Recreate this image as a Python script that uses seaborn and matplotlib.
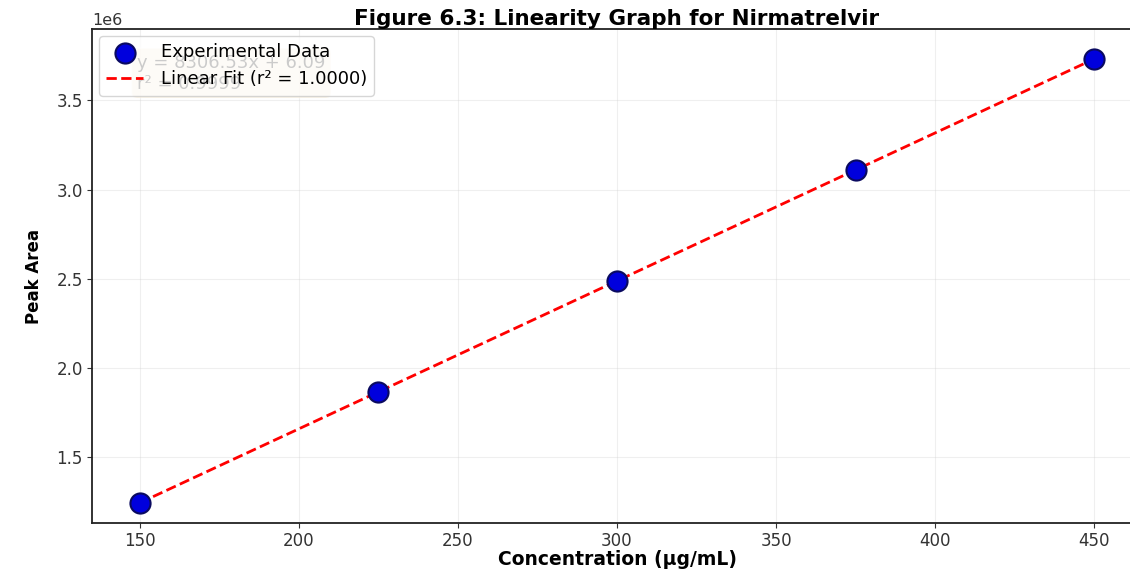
import numpy as np
import pandas as pd
import matplotlib
matplotlib.use("Agg")
import matplotlib.pyplot as plt
import seaborn as sns

# ── data ──
conc = [150, 225, 300, 375, 450]
peak_area = [1.242e6, 1.865e6, 2.489e6, 3.112e6, 3.730e6]
title = "Figure 6.3: Linearity Graph for Nirmatrelvir"
xlabel = "Concentration (µg/mL)"
ylabel = "Peak Area"
eq_text = "y = 8306.53x + 6.09\nr² = 0.9999"
fit_label = "Linear Fit (r² = 1.0000)"

sns.set_style("ticks")
plt.rcParams["font.family"] = ["DejaVu Sans"]
plt.rcParams["text.color"] = "black"
plt.rcParams["axes.labelcolor"] = "black"
plt.rcParams["xtick.color"] = "#333333"
plt.rcParams["ytick.color"] = "#333333"

df = pd.DataFrame({"conc": conc, "area": peak_area})
slope, intercept = np.polyfit(df["conc"], df["area"], 1)
fit = pd.DataFrame({"conc": conc, "area": slope * np.array(conc) + intercept})

fig = plt.figure(figsize=(11.3, 5.71), dpi=100)
ax = fig.add_axes([92 / 1130, 48 / 571, 1050 / 1130, 494 / 571])

sns.scatterplot(data=df, x="conc", y="area", s=210, color="#0000dd",
                edgecolor="#0a0a60", linewidth=1.5, zorder=5,
                label="Experimental Data", ax=ax)
sns.lineplot(data=fit, x="conc", y="area", color="red", linestyle="--",
             linewidth=2, label=fit_label, ax=ax, zorder=4)

ax.text(0.043, 0.95, eq_text, transform=ax.transAxes, fontsize=13, va="top",
        bbox=dict(boxstyle="round", facecolor="wheat", alpha=0.5))

ax.set_xlim(135, 465)
ax.set_ylim(1.13e6, 3.90e6)
ax.grid(True, alpha=0.3)
ax.tick_params(labelsize=12, pad=3)
ax.yaxis.get_offset_text().set_fontsize(11.5)
for s in ax.spines.values():
    s.set_linewidth(1.3)
    s.set_color("#222222")
ax.set_title(title, fontsize=15.5, fontweight="bold", pad=2)
ax.set_xlabel(xlabel, fontsize=13.5, fontweight="bold", labelpad=0)
ax.set_ylabel(ylabel, fontsize=12, fontweight="bold", labelpad=10)
ax.legend(loc="upper left", fontsize=13, framealpha=0.8,
          borderaxespad=0.4, handletextpad=1.0)

fig.savefig("out.png", dpi=100)
plt.close()
